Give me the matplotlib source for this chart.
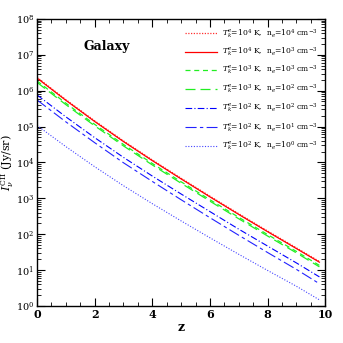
import matplotlib
matplotlib.use("Agg")
import matplotlib.pyplot as plt
from matplotlib.ticker import MultipleLocator, LogLocator, NullFormatter
import numpy as np

plt.rcParams["font.family"] = ["DejaVu Serif"]
plt.rcParams["mathtext.fontset"] = "dejavuserif"

# redshift samples
z = [0, 1, 2, 3, 4, 5, 6, 7, 8, 9, 9.8]

# log10 of intensity (Jy/sr)
log_t4_n4 = [6.37, 5.75, 5.16, 4.60, 4.07, 3.56, 3.06, 2.57, 2.09, 1.62, 1.24]
log_t4_n3 = [6.35, 5.73, 5.14, 4.58, 4.05, 3.54, 3.04, 2.55, 2.07, 1.60, 1.22]
log_t3_n3 = [6.27, 5.65, 5.06, 4.50, 3.97, 3.46, 2.96, 2.47, 1.99, 1.52, 1.13]
log_t3_n2 = [6.23, 5.61, 5.02, 4.46, 3.93, 3.42, 2.92, 2.43, 1.95, 1.48, 1.09]
log_t2_n2 = [5.88, 5.27, 4.69, 4.14, 3.62, 3.12, 2.63, 2.14, 1.67, 1.20, 0.81]
log_t2_n1 = [5.74, 5.13, 4.55, 3.99, 3.47, 2.96, 2.46, 1.97, 1.49, 1.02, 0.62]
log_t2_n0 = [5.03, 4.44, 3.88, 3.35, 2.85, 2.37, 1.90, 1.44, 0.99, 0.55, 0.17]

labels = [
    r"$T_k^e$=10$^4$ K,  n$_e$=10$^4$ cm$^{-3}$",
    r"$T_k^e$=10$^4$ K,  n$_e$=10$^3$ cm$^{-3}$",
    r"$T_k^e$=10$^3$ K,  n$_e$=10$^3$ cm$^{-3}$",
    r"$T_k^e$=10$^3$ K,  n$_e$=10$^2$ cm$^{-3}$",
    r"$T_k^e$=10$^2$ K,  n$_e$=10$^2$ cm$^{-3}$",
    r"$T_k^e$=10$^2$ K,  n$_e$=10$^1$ cm$^{-3}$",
    r"$T_k^e$=10$^2$ K,  n$_e$=10$^0$ cm$^{-3}$",
]

fig = plt.figure(figsize=(3.43, 3.43), dpi=100)
ax = fig.add_axes([0.108, 0.108, 0.84, 0.837])

ax.plot(z, 10 ** np.array(log_t4_n4), color="#ff3030", ls=(0, (1, 1.2)), lw=0.9, label=labels[0])
ax.plot(z, 10 ** np.array(log_t4_n3), color="#ff0000", ls="-", lw=0.9, label=labels[1])
ax.plot(z, 10 ** np.array(log_t3_n3), color="#22ee22", ls=(0, (4, 3)), lw=0.9, label=labels[2])
ax.plot(z, 10 ** np.array(log_t3_n2), color="#22ee22", ls=(0, (8, 4)), lw=0.9, label=labels[3])
ax.plot(z, 10 ** np.array(log_t2_n2), color="#0000ff", ls=(0, (6, 2, 1, 2)), lw=0.8, label=labels[4])
ax.plot(z, 10 ** np.array(log_t2_n1), color="#2222ff", ls=(0, (10, 3, 3, 3)), lw=0.8, label=labels[5])
ax.plot(z, 10 ** np.array(log_t2_n0), color="#4444ff", ls=(0, (1, 1.5)), lw=0.8, label=labels[6])

ax.set_yscale("log")
ax.set_xlim(0, 10)
ax.set_ylim(1, 1e8)
ax.xaxis.set_major_locator(MultipleLocator(2))
ax.xaxis.set_minor_locator(MultipleLocator(0.5))
ax.yaxis.set_major_locator(LogLocator(base=10, numticks=20))
ax.yaxis.set_minor_locator(LogLocator(base=10, subs=np.arange(2, 10), numticks=20))
ax.yaxis.set_minor_formatter(NullFormatter())
ax.tick_params(which="both", direction="in", top=True, right=True, labelsize=7, pad=2)
ax.tick_params(axis="x", labelsize=8)
ax.tick_params(which="major", length=6, width=0.8)
ax.tick_params(which="minor", length=3, width=0.6)
for lab in ax.get_xticklabels():
    lab.set_fontweight("bold")
for s in ax.spines.values():
    s.set_linewidth(1.0)

ax.set_xlabel("z", fontsize=9, fontweight="bold", labelpad=1)
ax.set_ylabel(r"$I_\nu^{\rm CII}$ (Jy/sr)", fontsize=8, labelpad=0)

ax.text(0.24, 0.905, "Galaxy", transform=ax.transAxes, fontsize=9,
        fontweight="bold", ha="center", va="center")

ax.legend(loc="upper right", fontsize=5.5, frameon=False, handlelength=4.2,
          handletextpad=0.6, labelspacing=0.75, borderaxespad=0.6)

fig.savefig("out.png", dpi=100)
